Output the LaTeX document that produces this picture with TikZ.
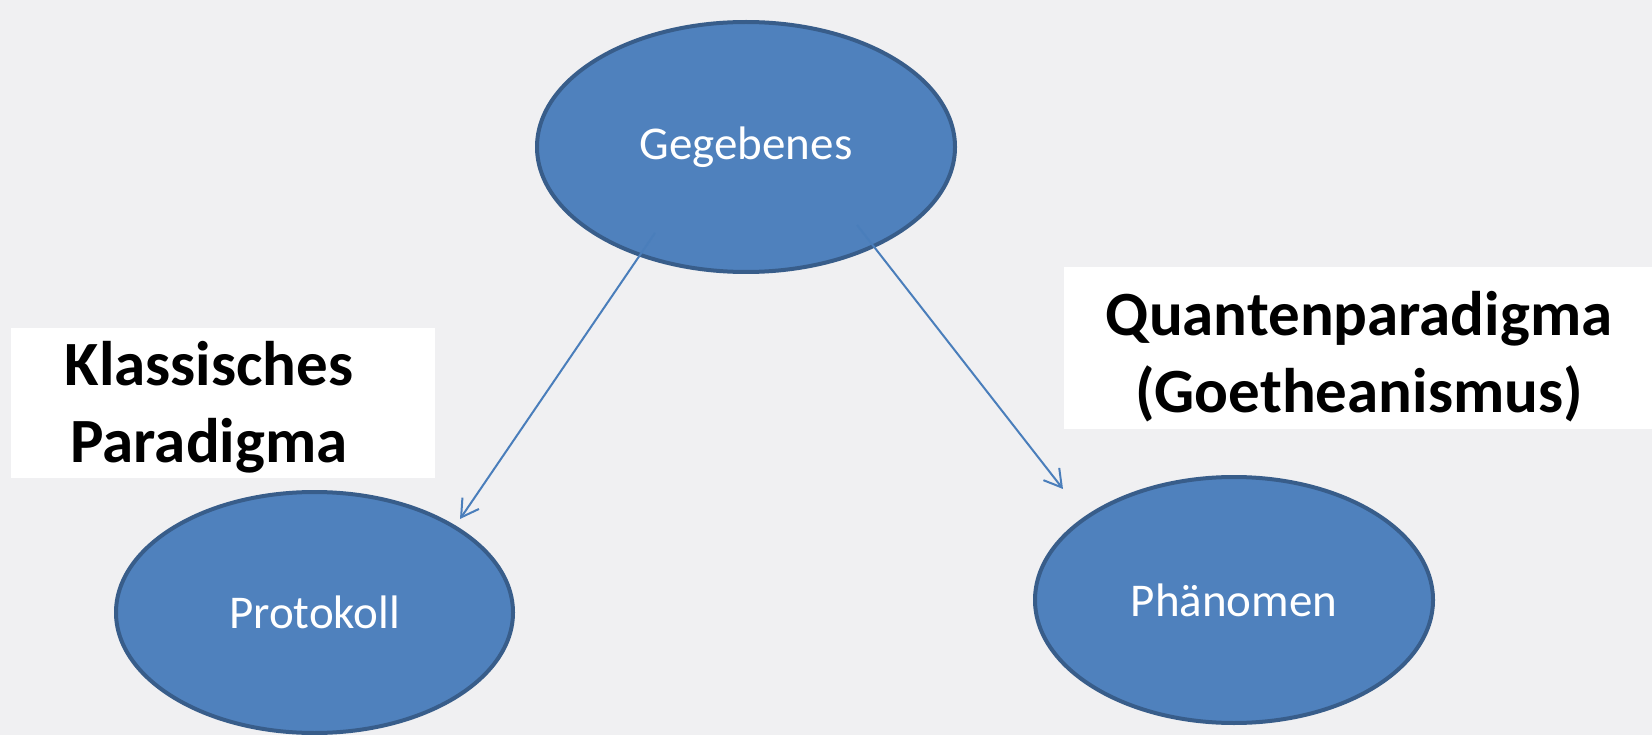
\documentclass[tikz,border=0pt]{standalone}
\usepackage{fontspec}
\setmainfont{Carlito}
\usetikzlibrary{shapes.geometric,arrows.meta}
\definecolor{bg}{RGB}{240,240,242}
\definecolor{efill}{RGB}{79,129,189}
\definecolor{edraw}{RGB}{56,93,138}
\definecolor{lcol}{RGB}{74,126,187}
\begin{document}
\begin{tikzpicture}[x=1pt,y=-1pt,
  ell/.style={ellipse, fill=efill, draw=edraw, line width=4pt, text=white,
    font=\fontsize{47}{56}\selectfont, inner sep=0pt},
  wbox/.style={rectangle, fill=white, draw=none, inner sep=0pt},
  lbl/.style={align=center, inner sep=0pt, text=black,
    font=\fontsize{63}{77}\selectfont\bfseries},
  arr/.style={draw=lcol, line width=2pt, -{Straight Barb[length=17pt,width=20pt,line width=2pt]}}
]
\fill[bg] (0,0) rectangle (1652,735);
\useasboundingbox (0,0) rectangle (1652,735);

% white label boxes
\node[wbox, minimum width=424pt, minimum height=150pt] (kbox) at (223,403) {};
\node[wbox, minimum width=588pt, minimum height=162pt] (qbox) at (1358,348) {};

% ellipses
\node[ell, minimum width=418pt, minimum height=250pt] (geg) at (746,147) {Gegebenes};
\node[ell, minimum width=397pt, minimum height=241pt] (prot) at (314.5,612.5) {Protokoll};
\node[ell, minimum width=398pt, minimum height=246pt] (phen) at (1234,600) {Phänomen};

% labels
\node[lbl] (ktext) at (209,407) {Klassisches\\Paradigma};
\node[lbl] (qtext) at (1359,357) {Quantenparadigma\\(Goetheanismus)};

% connectors
\coordinate (s1) at (655,233);
\coordinate (e1) at (460,519);
\coordinate (s2) at (857,225);
\coordinate (e2) at (1063,489);
\draw[arr] (s1) -- (e1);
\draw[arr] (s2) -- (e2);
\end{tikzpicture}
\end{document}
